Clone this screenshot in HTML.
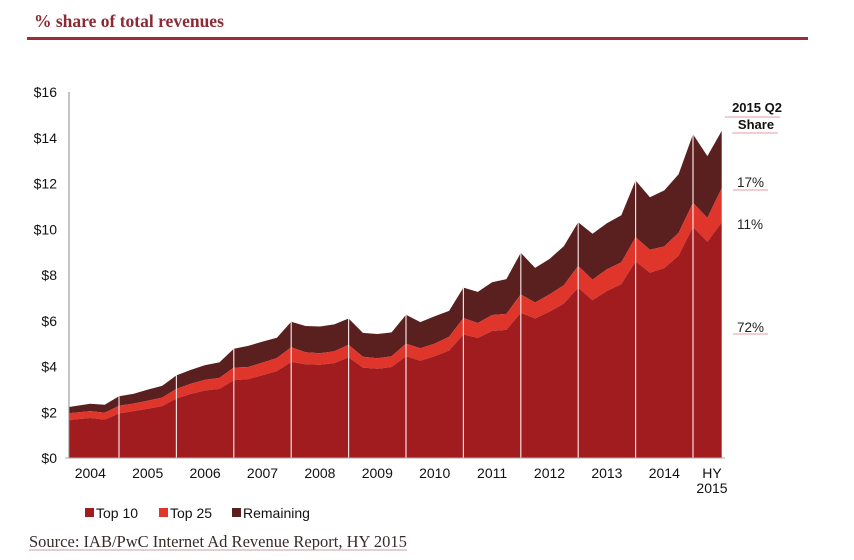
<!DOCTYPE html>
<html><head><meta charset="utf-8">
<style>
body{margin:0;background:#fff;width:854px;height:560px;overflow:hidden;font-family:"Liberation Sans",sans-serif}
svg{display:block}
</style></head>
<body>
<svg id="chart" width="854" height="560">
<text x="34" y="27" font-family="Liberation Serif,serif" font-weight="bold" font-size="17.5" fill="#8b2a35">% share of total revenues</text>
<rect x="27" y="37" width="781" height="3" fill="#9a2f3a"/>
<g id="plot"></g>
<g>
<text x="757" y="112" text-anchor="middle" font-weight="bold" font-size="13" fill="#111">2015 Q2</text>
<text x="756" y="129" text-anchor="middle" font-weight="bold" font-size="13" fill="#111">Share</text>
<line x1="725" y1="117" x2="780" y2="117" stroke="#e89aa8"/>
<line x1="732" y1="133" x2="778" y2="133" stroke="#e89aa8"/>
<text x="737" y="187" font-size="13.5" fill="#222">17%</text>
<line x1="733" y1="190" x2="768" y2="190" stroke="#e89aa8"/>
<text x="737" y="229" font-size="13.5" fill="#222">11%</text>
<text x="737" y="332" font-size="13.5" fill="#222">72%</text>
<line x1="733" y1="334" x2="768" y2="334" stroke="#e89aa8"/>
</g>
<g>
<rect x="85" y="508" width="9" height="9" fill="#a01c1f"/>
<text x="96" y="518" font-size="14" fill="#111">Top 10</text>
<rect x="159" y="508" width="9" height="9" fill="#e0352a"/>
<text x="170" y="518" font-size="14" fill="#111">Top 25</text>
<rect x="232" y="508" width="9" height="9" fill="#5a1f1f"/>
<text x="243" y="518" font-size="14" fill="#111">Remaining</text>
</g>
<text x="29" y="547" font-family="Liberation Serif,serif" font-size="16.5" fill="#3a2a2a">Source: IAB/PwC Internet Ad Revenue Report, HY 2015</text>
<line x1="29" y1="550" x2="407" y2="550" stroke="#c9a0a8"/>
</svg>
<script>
const years = ["2004","2005","2006","2007","2008","2009","2010","2011","2012","2013","2014","HY"];
const yTicks = [0,2,4,6,8,10,12,14,16];
const total = [2.23,2.37,2.33,2.70, 2.80,2.99,3.15,3.61, 3.85,4.06,4.18,4.78, 4.90,5.09,5.26,5.96, 5.77,5.75,5.84,6.10, 5.47,5.42,5.49,6.26, 5.94,6.20,6.43,7.45, 7.26,7.68,7.82,8.97, 8.31,8.70,9.26,10.31, 9.80,10.26,10.61,12.13, 11.40,11.70,12.40,14.15, 13.20,14.30];
const top10 = [1.66,1.75,1.68,1.95, 2.05,2.15,2.27,2.60, 2.80,2.95,3.02,3.40, 3.45,3.62,3.80,4.20, 4.10,4.08,4.15,4.40, 3.95,3.90,3.98,4.45, 4.25,4.45,4.70,5.40, 5.25,5.55,5.60,6.35, 6.10,6.40,6.75,7.45, 6.90,7.30,7.60,8.60, 8.10,8.30,8.85,10.10, 9.45,10.30];
const top25 = [0.30,0.30,0.30,0.33, 0.33,0.35,0.37,0.42, 0.45,0.47,0.48,0.55, 0.53,0.55,0.57,0.64, 0.52,0.50,0.52,0.55, 0.48,0.46,0.47,0.55, 0.55,0.55,0.60,0.72, 0.65,0.70,0.70,0.80, 0.70,0.75,0.80,0.95, 0.90,0.95,0.95,1.05, 1.00,0.95,1.00,1.05, 1.05,1.50];

const NS="http://www.w3.org/2000/svg";
const g=document.getElementById('plot');
const X0=69, X1=722, Y0=458, Y1=92;
function x(i){ if(i===0) return X0; return 119+57.4*((i-3)/4); }
function y(v){ return Y0-(v/16)*(Y0-Y1); }
function mk(t,a){const e=document.createElementNS(NS,t);for(const k in a)e.setAttribute(k,a[k]);g.appendChild(e);return e;}
const n=total.length;
const c1=top10.map(v=>v), c2=top10.map((v,i)=>v+top25[i]), c3=total.slice();
function area(lo,hi){
  let d="M"+x(0)+","+y(hi[0]);
  for(let i=1;i<n;i++) d+=" L"+x(i).toFixed(1)+","+y(hi[i]).toFixed(1);
  for(let i=n-1;i>=0;i--) d+=" L"+x(i).toFixed(1)+","+(lo?y(lo[i]):Y0).toFixed(1);
  return d+"Z";
}
let e;
e=mk('path',{d:area(c2,c3),fill:'#5a1f1f'});


e=mk('path',{d:area(c1,c2),fill:'#e0352a'});


e=mk('path',{d:area(null,c1),fill:'#a01c1f'});


for(let k=0;k<11;k++){
  const i=3+4*k;
  e=mk('line',{x1:x(i),x2:x(i),y1:y(total[i]),y2:Y0,stroke:'#f3dede','stroke-width':1.2});
  
  
}
e=mk('line',{x1:X0,x2:X0,y1:Y1,y2:Y0,stroke:'#888'});


e=mk('line',{x1:X0-4,x2:X1+3,y1:Y0,y2:Y0,stroke:'#aaa'});


yTicks.forEach(v=>{
  const t=mk('text',{x:57,y:y(v)+5,'text-anchor':'end','font-size':14,fill:'#111'});
  t.textContent='$'+v;
  
  
});
years.forEach((yr,k)=>{
  const cx = k<11 ? 119+57.4*(k-0.5) : 712;
  const t=mk('text',{x:cx,y:478,'text-anchor':'middle','font-size':14,fill:'#111'});
  t.textContent=yr;
  
  
});
e=mk('text',{x:712,y:493,'text-anchor':'middle','font-size':14,fill:'#111'});
e.textContent='2015';


</script>
</body></html>
